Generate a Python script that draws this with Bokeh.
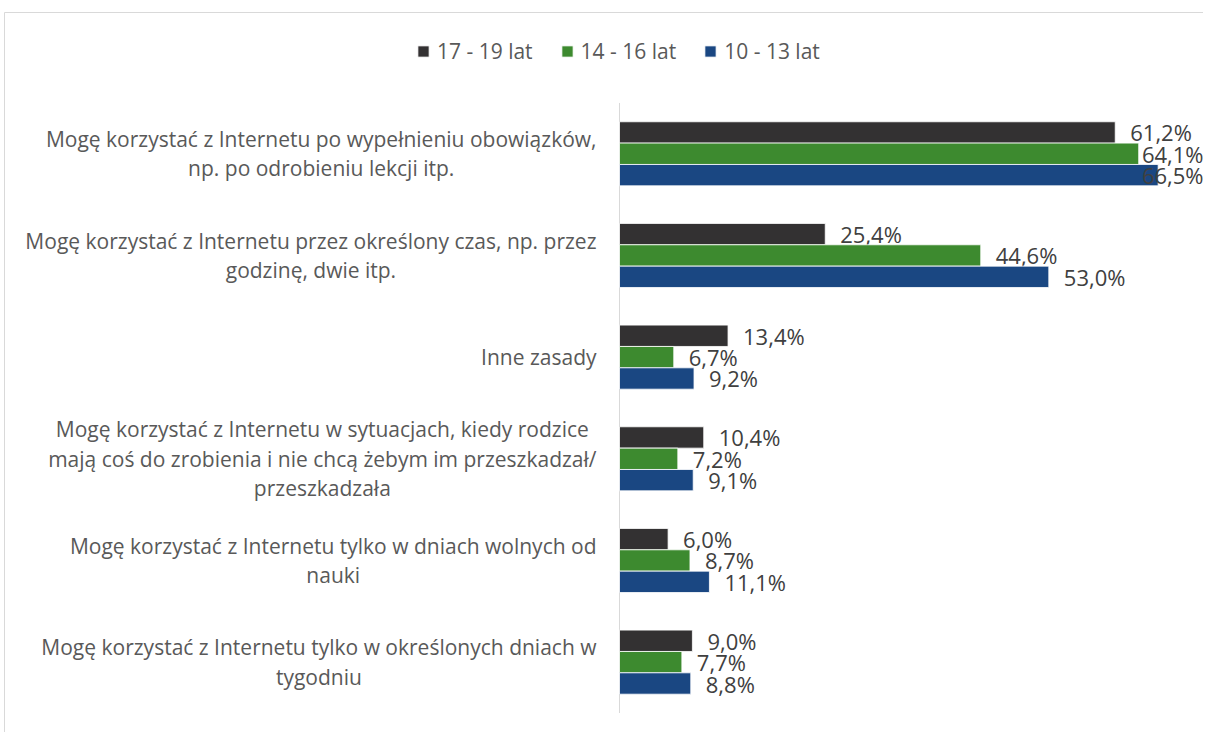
from bokeh.plotting import figure
from bokeh.models import ColumnDataSource, Legend, LegendItem, Range1d
from bokeh.core.properties import value
from bokeh.embed import file_html
from bokeh.resources import INLINE
import numpy as np

categories = [
    "Mogę korzystać z Internetu po wypełnieniu obowiązków,\nnp. po odrobieniu lekcji itp.",
    "Mogę korzystać z Internetu przez określony czas, np. przez\ngodzinę, dwie itp.",
    "Inne zasady",
    "Mogę korzystać z Internetu w sytuacjach, kiedy rodzice\nmają coś do zrobienia i nie chcą żebym im przeszkadzał/\nprzeszkadzała",
    "Mogę korzystać z Internetu tylko w dniach wolnych od\nnauki",
    "Mogę korzystać z Internetu tylko w określonych dniach w\ntygodniu",
]
series_names = ["17 - 19 lat", "14 - 16 lat", "10 - 13 lat"]
vals_17_19 = [61.2, 25.4, 13.4, 10.4, 6.0, 9.0]
vals_14_16 = [64.1, 44.6, 6.7, 7.2, 8.7, 7.7]
vals_10_13 = [66.5, 53.0, 9.2, 9.1, 11.1, 8.8]
colors = ["#333132", "#3d8a2f", "#1a4782"]

FONT = "Open Sans"
W, H = 1203, 732
PPU = 8.1            # pixels per percent
AXIS_PX = 619        # x pixel of the value axis inside the figure
CAT_PX = 101.67      # pixels per category
TOP_CAT_PX = 153.3   # y pixel of first category centre inside the figure

n = len(categories)
x0 = -AXIS_PX / PPU
x1 = (W - AXIS_PX) / PPU
y_top = (n - 1) + TOP_CAT_PX / CAT_PX
y_bot = (n - 1) - (H - TOP_CAT_PX) / CAT_PX

p = figure(width=W, height=H, x_range=Range1d(x0, x1), y_range=Range1d(y_bot, y_top),
           output_backend="svg", toolbar_location=None,
           min_border_left=0, min_border_right=0, min_border_top=0, min_border_bottom=0)
p.outline_line_color = None
p.grid.visible = False
p.axis.visible = False

ypos = np.array([n - 1 - i for i in range(n)], dtype=float)

# chart-area border (top and left)
bx = x0 + 4 / PPU
by = y_top - 12 / CAT_PX
p.segment(x0=[bx, bx], y0=[by, by], x1=[x1, bx], y1=[by, y_bot],
          line_color="#d9d9d9", line_width=1)

# value axis line
p.segment(x0=[0], y0=[-0.5], x1=[0], y1=[n - 0.5], line_color="#d9d9d9", line_width=1)

bar_h = 0.21
offsets = [bar_h, 0.0, -bar_h]
all_vals = [vals_17_19, vals_14_16, vals_10_13]

items = []
label_off = 15 / PPU
text_w = 61 / PPU
for name, vals, col, off in zip(series_names, all_vals, colors, offsets):
    v = np.array(vals)
    y = ypos + off
    src = ColumnDataSource(dict(y=y, right=v))
    r = p.hbar(y="y", right="right", left=0, height=bar_h, source=src,
               fill_color=col, line_color="white", line_width=0.8)
    items.append(LegendItem(label=name, renderers=[r]))
    fits = v + label_off + text_w <= x1
    lx = np.where(fits, v + label_off, x1)
    align = ["left" if f else "right" for f in fits]
    txt = [f"{x:.1f}".replace(".", ",") + "%" for x in v]
    lsrc = ColumnDataSource(dict(x=lx, y=y, text=txt, align=align))
    p.text(x="x", y="y", text="text", source=lsrc, text_align="align",
           text_baseline="middle", text_font=value(FONT), text_font_size="22px",
           text_color="#404040")

# category labels: block right-aligned at the axis, lines centred
csrc = ColumnDataSource(dict(x=[0.0] * n, y=ypos, text=categories))
p.text(x="x", y="y", text="text", source=csrc, x_offset=-23, anchor="center_right",
       text_align="center", text_baseline="middle", text_line_height=1.05,
       text_font=value(FONT), text_font_size="21px", text_color="#595959")

legend = Legend(items=items, orientation="horizontal", location=(416, 667),
                glyph_width=14, glyph_height=14, label_standoff=7, spacing=27,
                padding=0, margin=0, border_line_color=None, background_fill_alpha=0,
                label_text_font=FONT, label_text_font_size="21px", label_text_color="#595959")
p.add_layout(legend, "center")

open("out.html", "w").write(file_html(p, INLINE))
